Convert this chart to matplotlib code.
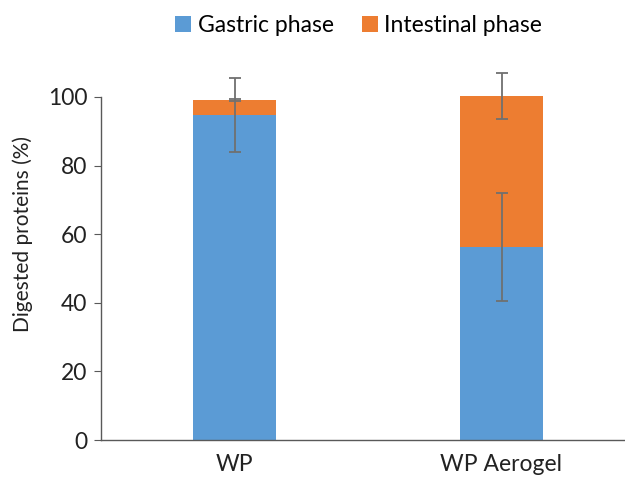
import matplotlib.pyplot as plt

plt.rcParams['font.family'] = ['Lato', 'DejaVu Sans']

samples = ['WP', 'WP Aerogel']
gastric = [94.7, 56.3]
gastric_err = [10.7, 15.8]
intestinal = [4.4, 44.0]
intestinal_err = [0.3, 6.6]

blue = '#5B9BD5'
orange = '#ED7D31'
grey = '#595959'

fig = plt.figure(figsize=(6.25, 4.84), dpi=100)
ax = fig.add_axes([0.1616, 0.0909, 0.8544, 0.7087])

x = list(range(len(samples)))
totals = [g + i for g, i in zip(gastric, intestinal)]

b1 = ax.bar(x, gastric, width=0.31, color=blue, label='Gastric phase', clip_on=False)
b2 = ax.bar(x, intestinal, width=0.31, bottom=gastric, color=orange,
            label='Intestinal phase', clip_on=False)

ax.errorbar(x, gastric, yerr=gastric_err, fmt='none', ecolor='#707070',
            elinewidth=1.3, capsize=4, capthick=1.3, clip_on=False)
ax.errorbar(x, totals, yerr=intestinal_err, fmt='none', ecolor='#707070',
            elinewidth=1.3, capsize=4, capthick=1.3, clip_on=False)

ax.set_xlim(-0.5, 1.5)
ax.set_ylim(0, 100)
ax.set_yticks([0, 20, 40, 60, 80, 100])
ax.set_xticks(x)
ax.set_xticklabels(samples)
ax.tick_params(axis='y', direction='out', length=5, color=grey, labelsize=16.5,
               labelcolor='#222222', pad=5)
ax.tick_params(axis='x', length=0, labelsize=16.5, labelcolor='#222222', pad=10)

for s in ['top', 'right']:
    ax.spines[s].set_visible(False)
for s in ['left', 'bottom']:
    ax.spines[s].set_color(grey)
    ax.spines[s].set_linewidth(1.0)

ax.set_ylabel('Digested proteins (%)', fontsize=15, color='#222222')
ax.yaxis.set_label_coords(-0.128, 0.6)

fig.legend(handles=[b1, b2], loc='center', bbox_to_anchor=(0.574, 0.948),
           ncol=2, frameon=False, fontsize=16.5, handlelength=0.7,
           handleheight=0.7, handletextpad=0.3, columnspacing=1.2)

fig.savefig('out.png', dpi=100)
